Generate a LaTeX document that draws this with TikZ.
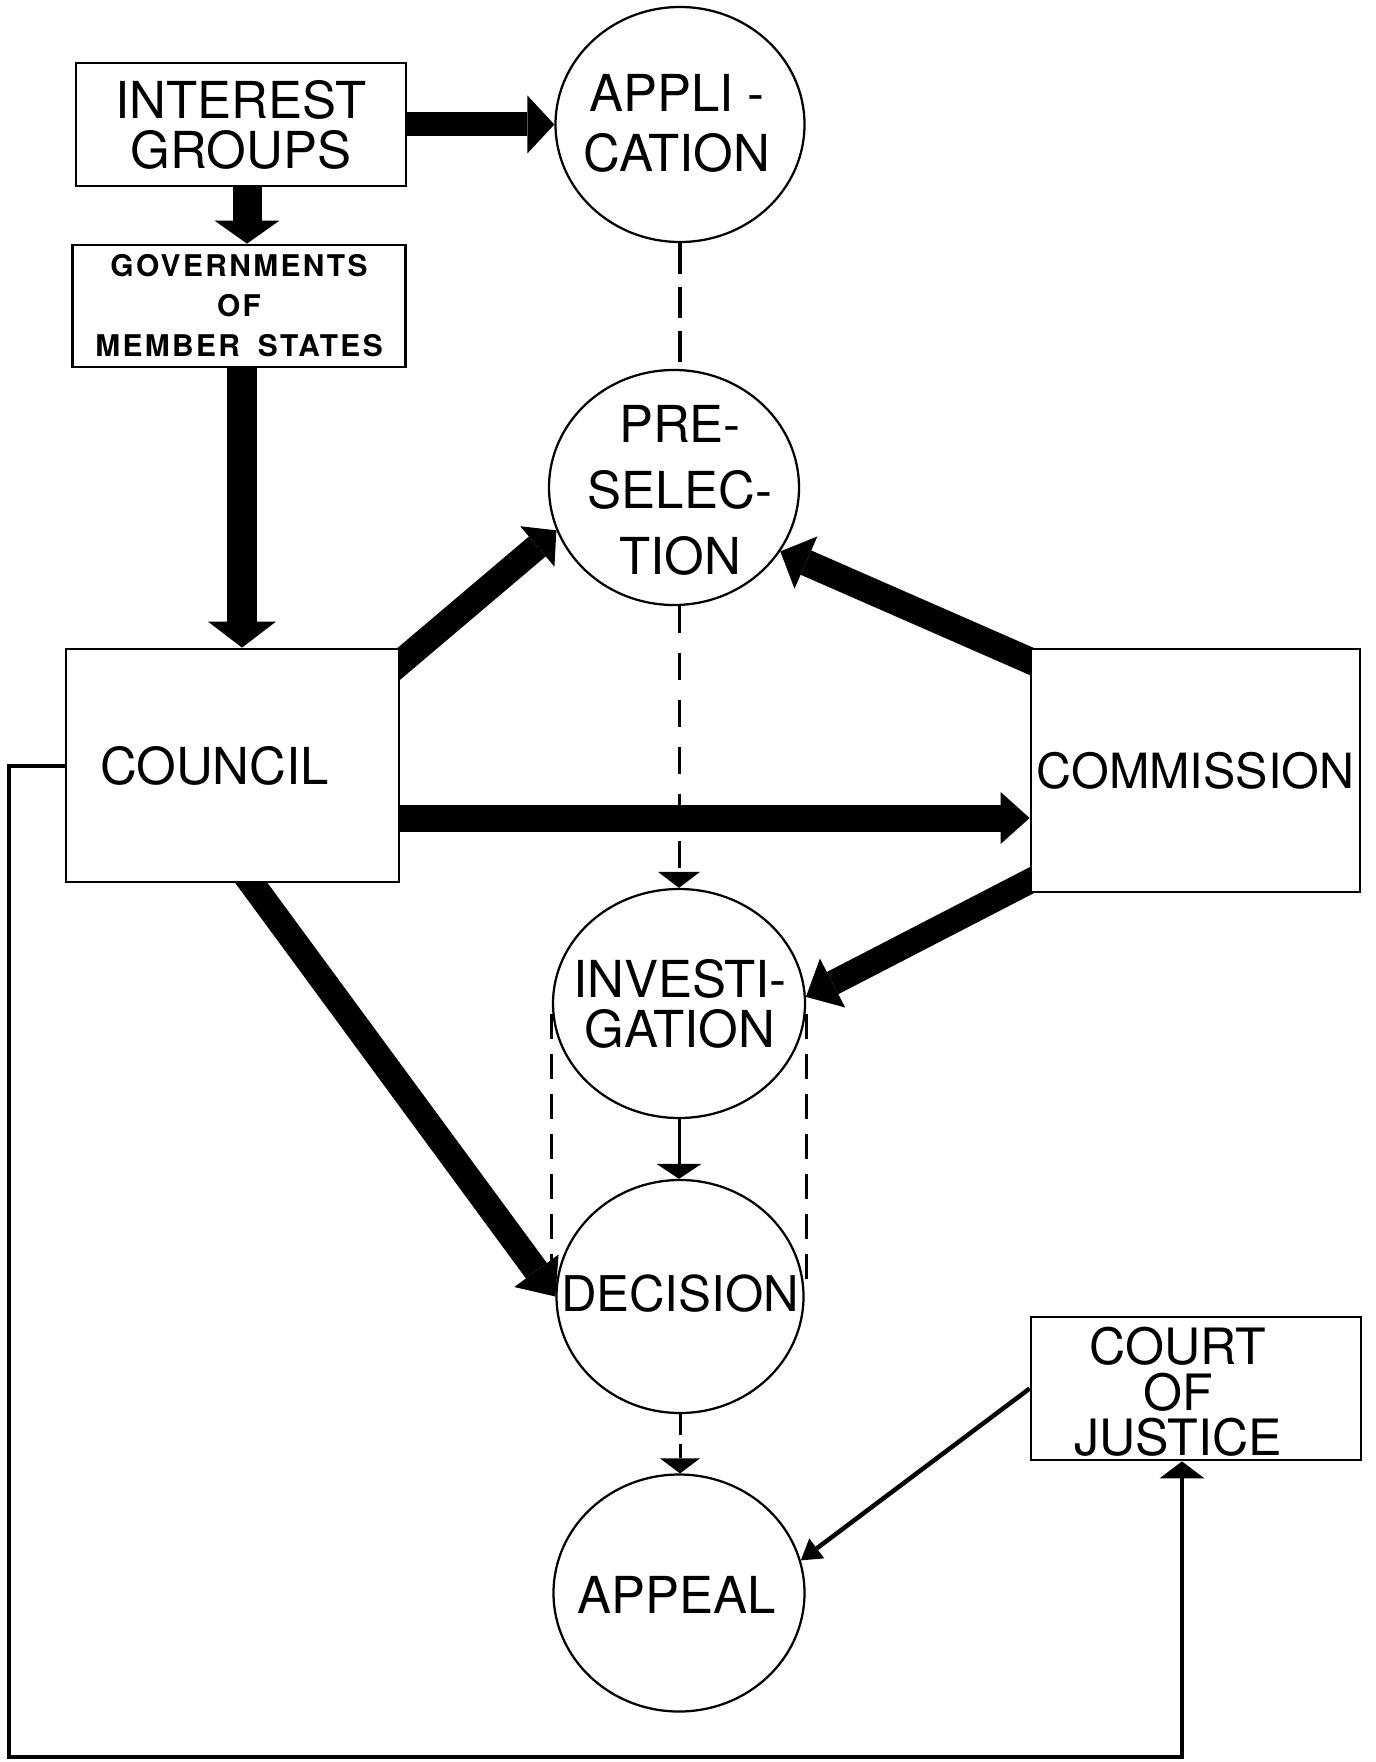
\documentclass[tikz,border=0pt]{standalone}
\usepackage{fontspec}
\setmainfont{TeX Gyre Heros}
\usetikzlibrary{arrows.meta,shapes.geometric,calc}
\pgfdeclarelayer{bg}
\pgfsetlayers{bg,main}
\begin{document}
\begin{tikzpicture}[x=0.2mm,y=-0.2mm,
  box/.style={draw,line width=0.55mm,fill=white,inner sep=0pt,align=center},
  oval/.style={ellipse,draw,line width=0.45mm,fill=white,inner sep=0pt},
  lbl/.style={inner sep=0pt,align=center},
  big/.style={font=\fontsize{29}{#1}\selectfont},
  big/.default=30]
\useasboundingbox (0,0) rectangle (1375,1762);

% boxes
\node[box,minimum width=66mm,minimum height=24.6mm,big=28.5] (ig) at (241,124.5) {INTEREST\\GROUPS};
\node[box,minimum width=66.6mm,minimum height=24.4mm,
  font=\bfseries\fontsize{17}{22.8}\selectfont\addfontfeatures{LetterSpace=8}] (gov) at (239,306) {GOVERNMENTS\\OF\\MEMBER\hspace{0.6em}STATES};
\node[box,minimum width=66.6mm,minimum height=46.6mm,big] (council) at (232.5,765.5) {\hspace*{-7.2mm}COUNCIL};
\node[box,minimum width=65.8mm,minimum height=48.6mm,font=\fontsize{27.6}{30}\selectfont] (comm) at (1195.5,770.5) {\raisebox{-1.1mm}{COMMISSION}};
\node[box,minimum width=66mm,minimum height=28.6mm] (court) at (1196,1388.5) {};
\node[lbl,font=\fontsize{28.5}{26}\selectfont] (courtt) at (1178,1392) {COURT\\OF\\JUSTICE};

% ovals
\node[oval,minimum width=49.8mm,minimum height=47mm] (app) at (680,124.5) {};
\node[lbl,big=34] (appt) at (677,123.5) {APPLI -\\CATION};
\node[oval,minimum width=50mm,minimum height=47mm] (pre) at (674,487.5) {};
\node[lbl,big=37.5] (pret) at (680,490) {PRE-\\SELEC-\\TION};
\node[oval,minimum width=50.4mm,minimum height=45.8mm] (inv) at (679,1003.5) {};
\node[lbl,big=28.5] (invt) at (680,1004) {INVESTI-\\GATION};
\node[oval,minimum width=49.4mm,minimum height=46.6mm] (dec) at (680,1296.5) {};
\node[lbl,font=\fontsize{28}{30}\selectfont] (dect) at (680,1293.5) {DECISION};
\node[oval,minimum width=50.2mm,minimum height=47.4mm] (apl) at (679,1593) {};
\node[lbl,big] (aplt) at (677,1594.5) {APPEAL};

\begin{pgfonlayer}{bg}
% thick arrows
\draw[line width=4.8mm,-{Triangle[length=5.4mm,width=11.6mm,line width=0pt]}] (ig.east) -- (app.west);
\coordinate (igs) at ($(ig.south)+(6,0)$);
\draw[line width=5.8mm,-{Triangle[length=4.6mm,width=13mm,line width=0pt]}] (igs) -- (igs |- gov.north);
\coordinate (gvs) at ($(gov.south)+(3,0)$);
\draw[line width=6mm,-{Triangle[length=5.2mm,width=13.6mm,line width=0pt]}] (gvs) -- (gvs |- council.north);
\coordinate (c1) at ($(council.north east)+(-19,31)$);
\draw[line width=5.2mm,-{Triangle[length=5mm,width=10.6mm,line width=0pt]}] (c1) -- (pre.200);
\coordinate (m1) at ($(comm.north west)+(23,23)$);
\draw[line width=5.3mm,-{Triangle[length=5.6mm,width=11.4mm,line width=0pt]}] (m1) -- (pre.329);
\coordinate (cc) at ($(council.east)+(0,52.5)$);
\draw[line width=5.4mm,-{Triangle[length=5.8mm,width=10.4mm,line width=0pt]}] (cc) -- (cc -| comm.west);
\coordinate (m2) at ($(comm.south west)+(22,-23.5)$);
\draw[line width=5mm,-{Triangle[length=6mm,width=11mm,line width=0pt]}] (m2) -- (inv.3);
\coordinate (c2) at ($(council.south)+(4.5,-20)$);
\draw[line width=5.2mm,-{Triangle[length=6.4mm,width=11mm,line width=0pt]}] (c2) -- (dec.west);

% thin and dashed connectors
\draw[line width=0.7mm,dash pattern=on 6.2mm off 2.6mm] (app.south) -- (app.south |- pre.north);
\draw[line width=0.6mm,dash pattern=on 5.4mm off 4mm,-{Triangle[length=3.2mm,width=8.4mm,line width=0pt]}] (inv.north |- pre.south) -- (inv.north);
\draw[line width=0.6mm,-{Triangle[length=3mm,width=9mm,line width=0pt]}] (inv.south) -- (inv.south |- dec.north);
\draw[line width=0.6mm,dash pattern=on 4.2mm off 1.8mm,-{Triangle[length=3mm,width=8mm,line width=0pt]}] (dec.south) -- (dec.south |- apl.north);
\draw[line width=0.6mm,dash pattern=on 5mm off 3mm] ($(inv.west)+(0,10)$) -- ($(inv.west)+(0,260)$);
\draw[line width=0.6mm,dash pattern=on 5mm off 3mm] ($(inv.east)+(0,10)$) -- ($(inv.east)+(0,275)$);
\draw[line width=0.9mm,-{Triangle[length=4mm,width=5mm,line width=0pt]}] (court.west) -- (apl.15);
\coordinate (fb) at (9,1757);
\coordinate (cs) at ($(court.south)+(-14,0)$);
\draw[line width=0.8mm,-{Triangle[length=3.4mm,width=9mm,line width=0pt]}] (council.west) -| (fb) -| (cs);
\end{pgfonlayer}
\end{tikzpicture}
\end{document}
